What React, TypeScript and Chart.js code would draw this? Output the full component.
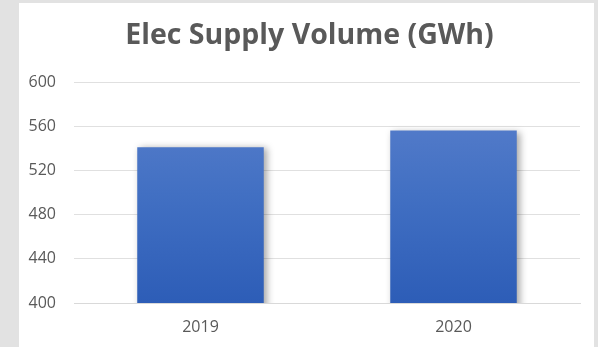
import React, { useEffect, useRef } from "react";
import { Chart, registerables } from "chart.js";

Chart.register(...registerables);

const categories: string[] = ["2019", "2020"];
const supplyVolume: number[] = [541, 556];
const yTicks: number[] = [400, 440, 480, 520, 560, 600];
const chartTitle = "Elec Supply Volume (GWh)";

const shadowPlugin = {
  id: "barShadow",
  beforeDatasetsDraw(chart: any) {
    const ctx = chart.ctx;
    ctx.save();
    ctx.shadowColor = "rgba(0,0,0,0.35)";
    ctx.shadowBlur = 7;
    ctx.shadowOffsetX = 3;
    ctx.shadowOffsetY = 1;
  },
  afterDatasetsDraw(chart: any) {
    chart.ctx.restore();
  },
};

// Title centred on the whole canvas (not on the padded layout box)
const centeredTitlePlugin = {
  id: "centeredTitle",
  afterDraw(chart: any) {
    const ctx = chart.ctx;
    ctx.save();
    ctx.font = "bold 28.5px 'Open Sans', sans-serif";
    ctx.fillStyle = "#595959";
    ctx.textAlign = "center";
    ctx.textBaseline = "middle";
    ctx.fillText(chartTitle, chart.width / 2, 32.5);
    ctx.restore();
  },
};

export default function App() {
  const ref = useRef<HTMLCanvasElement | null>(null);

  useEffect(() => {
    document.body.style.margin = "0";
    const canvas = ref.current;
    if (!canvas) return;
    const chart = new Chart(canvas, {
      type: "bar",
      data: {
        labels: categories,
        datasets: [
          {
            data: supplyVolume,
            backgroundColor: (c: any) => {
              const area = c.chart.chartArea;
              if (!area) return "#4472c4";
              const g = c.chart.ctx.createLinearGradient(0, area.top, 0, area.bottom);
              g.addColorStop(0, "#5c81cd");
              g.addColorStop(0.5, "#4270c3");
              g.addColorStop(1, "#2d5db7");
              return g;
            },
            borderWidth: 0,
            barPercentage: 0.5,
            categoryPercentage: 1,
          },
        ],
      },
      options: {
        animation: false,
        responsive: false,
        maintainAspectRatio: false,
        layout: { padding: { left: 0, right: 20, top: 79, bottom: 0 } },
        plugins: {
          legend: { display: false },
          tooltip: { enabled: false },
          title: { display: false },
        },
        scales: {
          x: {
            grid: { display: false, drawTicks: false },
            border: { display: true, color: "#d9d9d9", width: 1 },
            ticks: {
              color: "#595959",
              font: { family: "'Open Sans', sans-serif", size: 16 },
              padding: 15,
            },
            afterFit: (axis: any) => {
              axis.height = 44;
            },
          },
          y: {
            min: 400,
            max: 600,
            afterBuildTicks: (axis: any) => {
              axis.ticks = yTicks.map((v) => ({ value: v }));
            },
            grid: { color: "#e0e0e0", drawTicks: false },
            border: { display: false },
            ticks: {
              color: "#595959",
              font: { family: "'Open Sans', sans-serif", size: 16 },
              padding: 18,
            },
            afterFit: (axis: any) => {
              axis.width = 55;
            },
          },
        },
      },
      plugins: [shadowPlugin, centeredTitlePlugin],
    });
    return () => chart.destroy();
  }, []);

  return (
    <div style={{ position: "relative", width: 598, height: 347, background: "#e2e2e2", overflow: "hidden" }}>
      <div style={{ position: "absolute", left: 19, top: 3, width: 575, height: 344, background: "#ffffff" }} />
      <canvas
        ref={ref}
        width={581}
        height={344}
        style={{ display: "block", position: "absolute", left: 19, top: 3 }}
      />
    </div>
  );
}
